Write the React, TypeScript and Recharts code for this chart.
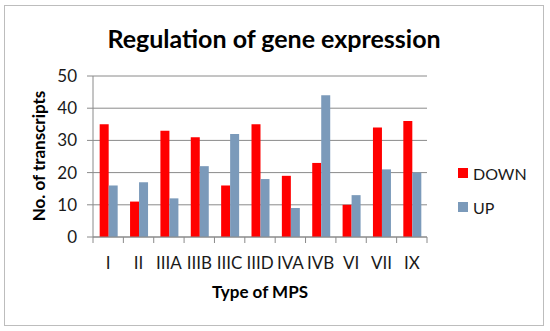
import React from 'react';
import { BarChart, Bar, XAxis, YAxis, CartesianGrid, Legend, Label } from 'recharts';

// MPS types along the x axis
const mpsTypes = ['I', 'II', 'IIIA', 'IIIB', 'IIIC', 'IIID', 'IVA', 'IVB', 'VI', 'VII', 'IX'];
// transcripts counted per type
const downValues = [35, 11, 33, 31, 16, 35, 19, 23, 10, 34, 36];
const upValues = [16, 17, 12, 22, 32, 18, 9, 44, 13, 21, 20];
const yTicks = [0, 10, 20, 30, 40, 50];

const data = mpsTypes.map((t, i) => ({ type: t, DOWN: downValues[i], UP: upValues[i] }));

const FONT = 'Lato, "Open Sans", sans-serif';
const AXIS_GREY = '#8a8a8a';
const RED = '#ff0000';
const BLUE = '#7b9aba';

// Excel puts the category ticks between the bars, not under them
const CategoryTick = (props: any) => {
  const { x, y, payload, index } = props;
  const half = payload && payload.offset ? payload.offset : 15.2;
  return (
    <g>
      <line x1={x - half} x2={x - half} y1={y} y2={y + 6} stroke={AXIS_GREY} />
      {index === mpsTypes.length - 1 && (
        <line x1={x + half} x2={x + half} y1={y} y2={y + 6} stroke={AXIS_GREY} />
      )}
      <text x={x} y={y + 26} dy="0.35em" textAnchor="middle" fill="#1a1a1a" fontSize={17} fontFamily={FONT}>
        {payload.value}
      </text>
    </g>
  );
};

const renderLegend = (props: any) => {
  const { payload } = props;
  return (
    <div style={{ fontFamily: FONT, fontSize: 16, color: '#1a1a1a' }}>
      {payload.map((entry: any) => (
        <div key={entry.value} style={{ display: 'flex', alignItems: 'center', height: 34 }}>
          <span style={{ display: 'inline-block', width: 10, height: 10, background: entry.color, marginRight: 5 }} />
          <span>{entry.value}</span>
        </div>
      ))}
    </div>
  );
};

const App: React.FC = () => {
  return (
    <div style={{ position: 'absolute', left: 0, top: 0, width: 550, height: 331, background: '#fff' }}>
      <div
        style={{
          position: 'absolute',
          left: 4,
          top: 5,
          width: 538,
          height: 319,
          border: '1px solid #bdbdbd',
        }}
      />
      <div
        style={{
          position: 'absolute',
          left: 4,
          width: 540,
          top: 23,
          textAlign: 'center',
          fontFamily: FONT,
          fontWeight: 700,
          fontSize: 25,
          lineHeight: '30px',
          color: '#000',
        }}
      >
        Regulation of gene expression
      </div>
      <BarChart
        width={550}
        height={331}
        data={data}
        margin={{ top: 76, right: 123, left: 0, bottom: 0 }}
        barCategoryGap="22%"
        barGap={0}
        style={{ position: 'absolute', left: 0, top: 0 }}
      >
        <CartesianGrid vertical={false} stroke={AXIS_GREY} />
        <XAxis
          dataKey="type"
          height={94}
          axisLine={{ stroke: AXIS_GREY }}
          tickLine={false}
          tickSize={0}
          tickMargin={0}
          interval={0}
          tick={<CategoryTick />}
        >
          <Label
            content={() => (
              <text x={260} y={292} dy="0.35em" textAnchor="middle" fontFamily={FONT} fontWeight={700} fontSize={17} fill="#000">
                Type of MPS
              </text>
            )}
          />
        </XAxis>
        <YAxis
          width={93}
          domain={[0, 50]}
          ticks={yTicks}
          interval={0}
          axisLine={{ stroke: AXIS_GREY }}
          tickLine={{ stroke: AXIS_GREY }}
          tickSize={6}
          tickMargin={10}
          tick={{ fill: '#1a1a1a', fontSize: 17, fontFamily: FONT }}
        >
          <Label
            content={() => (
              <text
                x={39}
                y={156}
                dy="0.35em"
                textAnchor="middle"
                transform="rotate(-90 39 156)"
                fontFamily={FONT}
                fontWeight={700}
                fontSize={17}
                fill="#000"
              >
                No. of transcripts
              </text>
            )}
          />
        </YAxis>
        <Legend
          layout="vertical"
          align="center"
          verticalAlign="middle"
          content={renderLegend}
          wrapperStyle={{ left: 458, top: 156, width: 90, height: 70 }}
        />
        <Bar dataKey="DOWN" fill={RED} isAnimationActive={false} />
        <Bar dataKey="UP" fill={BLUE} isAnimationActive={false} />
      </BarChart>
    </div>
  );
};

export default App;
